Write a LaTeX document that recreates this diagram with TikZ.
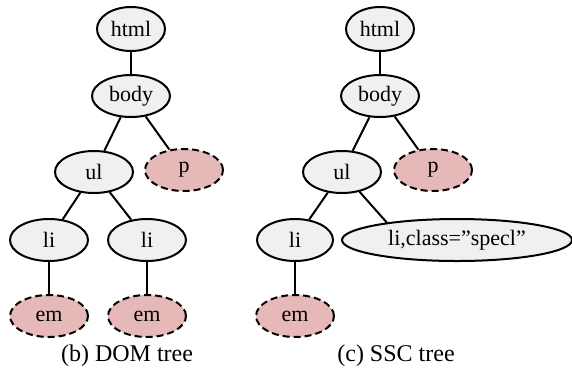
\documentclass[tikz,border=0pt]{standalone}
\usepackage{fontspec}
\setmainfont{Liberation Serif}
\usepackage{xcolor}
\usetikzlibrary{shapes.geometric}
\definecolor{taggray}{HTML}{F0F0F0}
\definecolor{tagpink}{HTML}{E6B8B7}

\begin{document}
\begin{tikzpicture}[x=0.5pt,y=-0.5pt,
        tag/.style={ellipse,draw,line width=1pt,fill=taggray,inner sep=0pt,
            minimum width=39pt,minimum height=21pt,font=\fontsize{11}{13}\selectfont},
        hidden/.style={tag,fill=tagpink,dash pattern=on 3.5pt off 2pt},
        link/.style={line width=1pt},
        caption/.style={font=\fontsize{12}{14}\selectfont}]
        \useasboundingbox (0,0) rectangle (572,371);
        % (b) DOM tree
        \node[tag,minimum width=34pt,minimum height=22pt] (html) at (131,29) {html};
        \node[tag] (body) at (131,96) {body};
        \node[tag] (ul) at (94,172) {ul};
        \node[hidden] (p) at (184,170) {p};
        \node[tag] (li1) at (49,240) {li};
        \node[tag] (li2) at (147,240) {li};
        \node[hidden] (em1) at (49,316) {em};
        \node[hidden] (em2) at (147,316) {em};
        \draw[link] (html) -- (body);
        \draw[link] (body) -- (ul);
        \draw[link] (body) -- (p);
        \draw[link] (ul) -- (li1);
        \draw[link] (ul) -- (li2);
        \draw[link] (li1) -- (em1);
        \draw[link] (li2) -- (em2);
        \node[caption] (domcap) at (127,356) {(b) DOM tree};
        % (c) SSC tree
        \node[tag,minimum width=34pt,minimum height=22pt] (shtml) at (380,29) {html};
        \node[tag] (sbody) at (380,96) {body};
        \node[tag] (sul) at (342,172) {ul};
        \node[hidden] (sp) at (433,170) {p};
        \node[tag,minimum width=38pt] (sli) at (295,240) {li};
        \node[tag,minimum width=115pt] (sspecl) at (457,240) {li,class=”specl”};
        \node[hidden] (sem) at (295,316) {em};
        \draw[link] (shtml) -- (sbody);
        \draw[link] (sbody) -- (sul);
        \draw[link] (sbody) -- (sp);
        \draw[link] (sul) -- (sli);
        \draw[link] (sul) -- (sspecl.166);
        \draw[link] (sli) -- (sem);
        \node[caption] (ssccap) at (396,356) {(c) SSC tree};
\end{tikzpicture}
\end{document}
